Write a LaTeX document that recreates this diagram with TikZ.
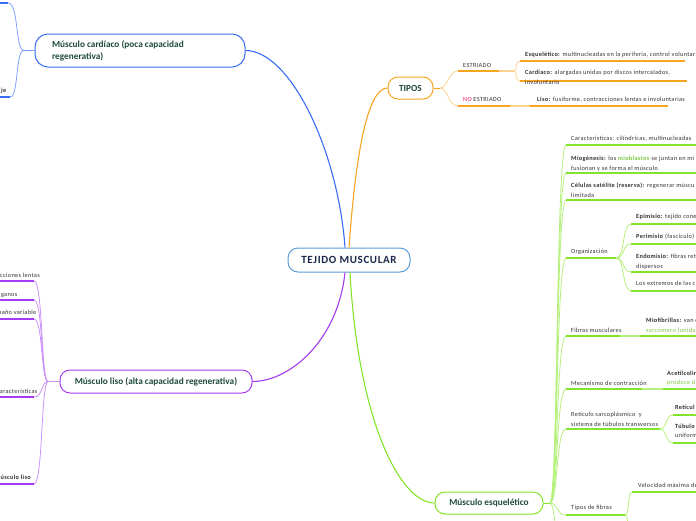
\documentclass[tikz,border=0pt]{standalone}
\usepackage{fontspec}
\setmainfont{Carlito}
\newfontfamily\smf[LetterSpace=5]{Carlito}
\newfontfamily\hubf[LetterSpace=6]{Carlito}
\definecolor{bl}{HTML}{3B6CF6}
\definecolor{bll}{HTML}{7FA0FF}
\definecolor{org}{HTML}{F7A423}
\definecolor{orgl}{HTML}{FBD28F}
\definecolor{pur}{HTML}{A63CF0}
\definecolor{purl}{HTML}{CC90FA}
\definecolor{grn}{HTML}{84E42A}
\definecolor{grnl}{HTML}{B6F07C}
\definecolor{hubc}{HTML}{5B9BD5}
\definecolor{dgreen}{HTML}{1E4A3C}
\definecolor{navy}{HTML}{1B2A4A}
\definecolor{tg}{HTML}{333333}
\definecolor{gtxt}{HTML}{7CC843}
\definecolor{nored}{HTML}{E8175D}
\tikzset{
  tx/.style={font=\smf\fontsize{6.3}{9.3}\selectfont, text=tg, inner sep=0pt, align=left, anchor=base west},
  txr/.style={font=\smf\fontsize{6.3}{9.3}\selectfont, text=tg, inner sep=0pt, anchor=base east},
  big/.style={draw, line width=1pt, fill=white, rounded corners=10pt, font=\bfseries\fontsize{9.3}{12}\selectfont, text=dgreen, inner sep=0pt},
  hub/.style={big, draw=hubc, text=navy, font=\hubf\bfseries\fontsize{11}{12}\selectfont},
  ul/.style={line width=1.4pt},
  cn/.style={line width=0.8pt},
  mcn/.style={line width=1.1pt}
}
\begin{document}
\begin{tikzpicture}[x=1pt,y=-1pt]
\useasboundingbox (0,0) rectangle (696,520);
\clip (0,0) rectangle (696,520);

% ---------- main nodes ----------
\node[hub, minimum width=122pt, minimum height=24pt] (tm) at (349,260) {TEJIDO MUSCULAR};
\node[big, draw=bl, rounded corners=13pt, minimum width=210pt, minimum height=33pt, text width=176pt, align=flush left] (card) at (140,50.5) {Músculo cardíaco (poca capacidad\\regenerativa)};
\node[big, draw=org, minimum width=45pt, minimum height=22pt] (tipos) at (410.5,88) {TIPOS};
\node[big, draw=pur, minimum width=192pt, minimum height=23pt] (liso) at (156,381.5) {Músculo liso (alta capacidad regenerativa)};
\node[big, draw=grn, minimum width=108pt, minimum height=22pt] (esq) at (489,503) {Músculo esquelético};

% ---------- main connectors ----------
\draw[bl, mcn] ([xshift=-4pt]tm.north) .. controls (338,150) and (290,50.5) .. (card.east);
\draw[org, mcn] ([xshift=0pt]tm.north) .. controls (356,150) and (368,88) .. (tipos.west);
\draw[pur, mcn] ([xshift=-4pt]tm.south) .. controls (338,340) and (290,381.5) .. (liso.east);
\draw[grn, mcn] ([xshift=1pt]tm.south) .. controls (358,420) and (400,503) .. (esq.west);

% ---------- cardiac branches (left, clipped) ----------
\coordinate (cj) at (24,50.5);
\coordinate (ct1) at (8,3);
\coordinate (ct0) at (0,3);
\coordinate (cb1) at (10,97);
\coordinate (cb0) at (0,97);
\draw[bll, cn] (card.west) -- (cj);
\draw[bll, cn] (cj) .. controls (15,50.5) and (19,3) .. (ct1);
\draw[bll, cn] (cj) .. controls (15,50.5) and (19,97) .. (cb1);
\draw[bl, ul] (ct0) -- (ct1);
\draw[bl, ul] (cb0) -- (cb1);
\node[txr, font=\smf\bfseries\fontsize{6.3}{9.3}\selectfont] (cje) at (6.5,92) {je};

% ---------- TIPOS branches ----------
\coordinate (tj) at (440,88);
\coordinate (es0) at (458,71);  \coordinate (es1) at (499,71); \coordinate (es2) at (514,71);
\coordinate (ne0) at (458,106); \coordinate (ne1) at (510,106); \coordinate (ne2) at (530,106);
\coordinate (eq0) at (520,61);  \coordinate (eq1) at (685,61);
\coordinate (cd0) at (520,81);  \coordinate (cd1) at (687,81);
\coordinate (li1) at (668,106);
\draw[org, cn] (tipos.east) -- (tj);
\draw[orgl, cn] (tj) .. controls (448,88) and (448,71) .. (es0);
\draw[orgl, cn] (tj) .. controls (448,88) and (448,106) .. (ne0);
\draw[org, ul] (es0) -- (es1);
\draw[orgl, ul] (es1) -- (es2);
\draw[orgl, cn] (es2) .. controls (518,71) and (514,61) .. (eq0);
\draw[orgl, cn] (es2) .. controls (518,71) and (514,81) .. (cd0);
\draw[org, ul] (eq0) -- (eq1);
\draw[org, ul] (cd0) -- (cd1);
\draw[org, ul] (ne0) -- (ne1);
\draw[orgl, ul] (ne1) -- (ne2);
\draw[org, ul] (ne2) -- (li1);
\node[tx] (estr) at (463,67.5) {ESTRIADO};
\node[tx] (noestr) at (463,101) {\textcolor{nored}{NO} ESTRIADO};
\node[tx] (tesq) at (525,56) {\textbf{Esquelético:} multinucleadas en la periferia, control voluntario};
\node[tx] (tcar) at (525,84) {\textbf{Cardíaco:} alargadas unidas por discos intercalados,\\involuntario};
\node[tx] (tlis) at (537,101.5) {\textbf{Liso:} fusiforme, contracciones lentas e involuntarias};

% ---------- liso branches (left, clipped) ----------
\coordinate (lj) at (48,381.5);
\draw[purl, cn] (liso.west) -- (lj);
\foreach \yy/\nm in {281/a,300/b,319/c,397/d,484/e}{
  \coordinate (l\nm) at (34,\yy);
  \coordinate (l\nm0) at (0,\yy);
  \draw[purl, cn] (lj) .. controls (41,381.5) and (43,\yy) .. (l\nm);
  \draw[pur, ul] (l\nm0) -- (l\nm);
}
\node[txr] (lta) at (40,277) {cciones lentas};
\node[txr] (ltb) at (17.5,296) {ganos};
\node[txr] (ltc) at (36.5,314.5) {maño variable};
\node[txr] (ltd) at (37.5,393.5) {aracterísticas};
\node[txr, font=\smf\bfseries\fontsize{6.3}{9.3}\selectfont] (lte) at (31,479) {úsculo liso};

% ---------- esquelético branches ----------
\coordinate (gj) at (550,503);
\draw[grn, cn] (esq.east) -- (gj);
\foreach \yy/\nm in {145/a,173/b,200/c,258/d,336/e,389/f,429/g,515/h,600/i}{
  \coordinate (g\nm) at (566,\yy);
  \draw[grnl, cn] (gj) .. controls (558,503) and (556,\yy) .. (g\nm);
}
% direct leaves
\draw[grn, ul] (ga) -- (700,145);
\draw[grn, ul] (gb) -- (700,173);
\draw[grn, ul] (gc) -- (700,200);
\node[tx] (car) at (571,140) {Características: cilíndricas, multinucleadas};
\node[tx] (mio) at (571,170) {\textbf{Miogénesis:} los \textcolor{gtxt}{\textbf{mioblastos}} se juntan en mi\\fusionan y se forma el músculo};
\node[tx] (cel) at (571,197) {\textbf{Células satélite (reserva):} regenerar múscu\\limitada};

% Organización
\coordinate (od1) at (616,258);
\draw[grn, ul] (gd) -- (od1);
\node[tx] (org) at (571,253.5) {Organización};
\foreach \yy/\nm in {224/a,244/b,272/c,291/d}{
  \coordinate (o\nm) at (631,\yy);
  \draw[grnl, cn] (od1) .. controls (625,258) and (622,\yy) .. (o\nm);
  \draw[grn, ul] (o\nm) -- (700,\yy);
}
\node[tx] (epi) at (636,218.5) {\textbf{Epimisio:} tejido conec};
\node[tx] (peri) at (636,238.5) {\textbf{Perimisio} (fascículo)};
\node[tx] (endo) at (636,268) {\textbf{Endomisio:} fibras reti\\dispersos};
\node[tx] (ext) at (636,285.5) {Los extremos de las c};

% Fibras musculares
\coordinate (fe1) at (620,336); \coordinate (fe2) at (640,336);
\draw[grn, ul] (ge) -- (fe1);
\draw[grnl, ul] (fe1) -- (fe2);
\draw[grn, ul] (fe2) -- (700,336);
\node[tx] (fib) at (571,332) {Fibras musculares};
\node[tx] (miof) at (646,332) {\textbf{Miofibrillas:} van c\\\textcolor{gtxt}{sarcómero (unida}};

% Mecanismo
\coordinate (mf1) at (642,389); \coordinate (mf2) at (663,389);
\draw[grn, ul] (gf) -- (mf1);
\draw[grnl, ul] (mf1) -- (mf2);
\draw[grn, ul] (mf2) -- (700,389);
\node[tx] (mec) at (571,385.5) {Mecanismo de contracción};
\node[tx] (ace) at (667,384.5) {\textbf{Acetilcolin}\\\textcolor{gtxt}{produce d}};

% Retículo
\coordinate (rg1) at (660,429);
\coordinate (ra) at (673,415); \coordinate (rb) at (673,443);
\draw[grn, ul] (gg) -- (rg1);
\draw[grnl, cn] (rg1) .. controls (667,429) and (665,415) .. (ra);
\draw[grnl, cn] (rg1) .. controls (667,429) and (665,443) .. (rb);
\draw[grn, ul] (ra) -- (700,415);
\draw[grn, ul] (rb) -- (700,443);
\node[tx] (ret) at (571,426) {Retículo sarcoplásmico\ \ y\\sistema de túbulos transversos};
\node[tx] (reta) at (675,409) {\textbf{Retícul}};
\node[tx] (retb) at (675,437.5) {\textbf{Túbulo}\\uniform};

% Tipos de fibras
\coordinate (th1) at (625,515);
\coordinate (ta) at (632,492); \coordinate (tb) at (632,545);
\draw[grn, ul] (gh) -- (th1);
\draw[grnl, cn] (th1) .. controls (630,515) and (627,492) .. (ta);
\draw[grnl, cn] (th1) .. controls (630,515) and (627,545) .. (tb);
\draw[grn, ul] (ta) -- (700,492);
\node[tx] (tip) at (571,509.5) {Tipos de fibras};
\node[tx] (vel) at (638,487.5) {Velocidad máxima de};
\end{tikzpicture}
\end{document}
